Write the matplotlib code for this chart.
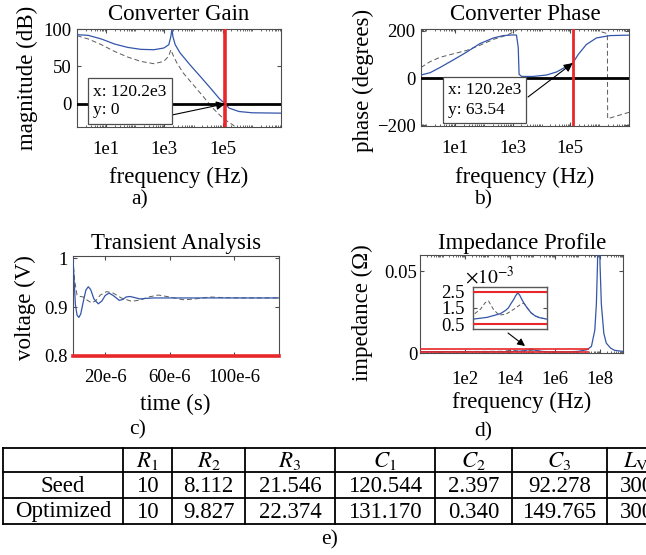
import numpy as np
import matplotlib
matplotlib.use('Agg')
import matplotlib.pyplot as plt
from matplotlib.ticker import LogLocator, NullFormatter

W, H = 646, 555
plt.rcParams['font.family'] = ['Liberation Serif', 'DejaVu Serif']
plt.rcParams['mathtext.fontset'] = 'stix'

BLUE = '#3355aa'
GRAY = '#5a5a5a'
RED = '#e8272a'

# ---------------- data ----------------
# a) converter gain (x: log10 frequency, y: dB)
gain_opt_logf = [0.0, 0.39, 0.84, 1.29, 1.74, 2.19, 2.64, 2.98, 3.15, 3.22, 3.26, 3.29, 3.37, 3.54, 3.88,
                 4.21, 4.55, 4.89, 5.08, 5.22, 5.56, 6.01, 7.0]
gain_opt = [92.4, 91.5, 86.6, 79.9, 75.4, 72.8, 72.3, 74.6, 79.0, 90.0, 100.0, 90.0, 79.0, 67.9, 52.0,
            37.5, 22.3, 6.7, 0.0, -5.8, -10.3, -12.0, -12.5]
gain_seed_logf = [0.0, 0.39, 0.84, 1.29, 1.74, 2.19, 2.64, 2.98, 3.15, 3.22, 3.29, 3.43, 3.65, 3.99,
                  4.33, 4.66, 5.0, 5.34, 5.5]
gain_seed = [91.0, 86.6, 79.0, 70.0, 62.5, 56.7, 53.6, 56.7, 64.0, 72.3, 65.6, 54.5, 41.0, 25.4,
             9.8, -5.8, -19.0, -28.0, -33.0]
cross_f = 120.2e3
cross_gain = 0
cross_phase = 63.54

# b) converter phase (x: log10 frequency, y: degrees)
phase_opt_logf = [-0.18, 0.14, 0.48, 0.94, 1.40, 1.86, 2.33, 2.67, 3.02, 3.13, 3.19, 3.22, 3.31, 3.71,
                  4.17, 4.52, 4.80, 5.08, 5.27, 5.55, 5.90, 6.36, 7.03]
phase_opt = [13, 23, 45, 77, 110, 146, 170, 180, 183, 182, 130, 16, 7, 7,
             13, 26, 45, 63.5, 100, 142, 170, 180, 182]
phase_seed_logf = [-0.18, 0.14, 0.48, 0.94, 1.40, 1.86, 2.33, 2.80, 3.1, 3.4, 4.0, 5.0, 5.6, 5.9,
                   6.1, 6.28, 6.29, 7.03]
phase_seed = [45, 70, 88, 103, 117, 139, 164, 182, 200, 225, 250, 260, 235, 210,
              195, 188, -172, -145]

# c) transient analysis (x: microseconds, y: volts)
tr_t_opt = [0, 0.6, 1.5, 2.5, 3.6, 4.8, 6.3, 8.0, 9.5, 11.0, 13.0, 15.7, 18.0, 20.0, 22.4, 25.0,
            28.8, 31.0, 33.0, 35.4, 38.0, 41.6, 45.0, 50.0, 128.0]
tr_v_opt = [0.998, 0.96, 0.905, 0.884, 0.879, 0.886, 0.91, 0.935, 0.942, 0.936, 0.917, 0.907,
            0.913, 0.924, 0.929, 0.924, 0.914, 0.916, 0.921, 0.922, 0.920, 0.917, 0.918, 0.919, 0.919]
tr_t_seed = [0, 1.0, 2.5, 4.5, 6.4, 9.0, 11.6, 14.0, 17.0, 20.9, 25.0, 30.0, 36.5, 42.0, 47.0,
             53.0, 60.0, 68.5, 76.0, 85.0, 95.0, 105.0, 128.0]
tr_v_seed = [0.998, 0.955, 0.925, 0.922, 0.921, 0.914, 0.909, 0.913, 0.925, 0.932, 0.929, 0.919,
             0.912, 0.915, 0.921, 0.925, 0.921, 0.9153, 0.917, 0.921, 0.9195, 0.919, 0.919]

# d) impedance profile (x: log10 frequency, y: milliohm)
z_opt_logf = [0, 1, 2, 3, 3.7, 4.08, 4.44, 4.58, 4.66, 4.72, 4.80, 4.85, 4.91, 4.96, 5.02, 5.09,
              5.16, 5.27, 5.38, 5.5, 5.7, 6.0, 6.5, 7.0, 7.4, 7.6, 7.75, 7.82, 7.87, 7.93, 7.98,
              8.04, 8.15, 8.26, 8.45, 8.63, 9.0]
z_opt = [0.75, 0.77, 0.78, 0.80, 0.81, 0.92, 1.15, 1.35, 1.52, 1.75, 2.03, 2.25, 2.44, 2.30, 2.03,
         1.75, 1.52, 1.20, 1.01, 0.90, 0.81, 0.70, 0.65, 1.0, 2.0, 4.0, 14.0, 30.0, 55.0, 120.0,
         55.0, 30.0, 12.0, 6.0, 3.0, 1.6, 1.0]
z_seed_logf = [0, 2, 3, 3.7, 3.9, 4.03, 4.12, 4.25, 4.4, 4.58, 4.8, 4.96, 5.06, 5.09, 5.16, 5.27,
               5.38, 5.5, 5.7, 6.0, 6.5]
z_seed = [0.9, 0.95, 1.0, 1.07, 1.42, 1.83, 1.93, 1.42, 1.07, 1.10, 1.42, 1.68, 1.80, 1.75, 1.52,
          1.20, 1.01, 0.90, 0.81, 0.70, 0.65]
z_limits = [0.5, 2.5]

# e) table
table_cols = ['', r'$R_1$', r'$R_2$', r'$R_3$', r'$C_1$', r'$C_2$', r'$C_3$', r'$L_\mathrm{V}$']
table_seed = ['Seed', '10', '8.112', '21.546', '120.544', '2.397', '92.278', '300']
table_opt = ['Optimized', '10', '9.827', '22.374', '131.170', '0.340', '149.765', '300']

# ---------------- layout helpers ----------------
fig = plt.figure(figsize=(W / 100, H / 100), dpi=100)


def rect(l, t, r, b):
    return [l / W, 1 - b / H, (r - l) / W, (b - t) / H]


def style(ax, logx=False, xpad=10):
    ax.tick_params(which='both', direction='in', top=True, right=True, labelsize=13.5,
                   color='0.3', length=3)
    ax.tick_params(axis='x', pad=xpad)
    ax.tick_params(axis='y', pad=4)
    ax.tick_params(which='minor', length=1.5)
    for s in ax.spines.values():
        s.set_color('0.3')
        s.set_linewidth(0.8)
    if logx:
        ax.xaxis.set_minor_locator(LogLocator(base=10, subs=np.arange(1, 10), numticks=100))
        ax.xaxis.set_minor_formatter(NullFormatter())


def fp(x, y):
    return (x, H - y)


# ---------------- a) ----------------
axa = fig.add_axes(rect(77, 29, 281, 127))
axa.semilogx(10 ** np.array(gain_seed_logf), gain_seed, color=GRAY, lw=0.7, ls=(0, (5, 3)), zorder=2)
axa.semilogx(10 ** np.array(gain_opt_logf), gain_opt, color=BLUE, lw=0.9, zorder=3)
axa.axhline(0, color='black', lw=2, zorder=4)
axa.axvline(cross_f, color=RED, lw=2.6, zorder=5)
axa.set_xlim(1, 1e7)
axa.set_ylim(-31, 100)
style(axa, True)
axa.set_xticks([1e1, 1e3, 1e5])
axa.set_xticklabels(['1e1', '1e3', '1e5'])
axa.set_yticks([0, 50, 100])
axa.annotate('', xy=(cross_f, cross_gain), xycoords='data', xytext=fp(172, 115),
             textcoords='figure pixels',
             arrowprops=dict(arrowstyle='-|>', color='black', lw=0.8, mutation_scale=13,
                             shrinkA=0, shrinkB=0), zorder=6)

# ---------------- b) ----------------
axb = fig.add_axes(rect(421, 29, 629, 126))
axb.semilogx(10 ** np.array(phase_seed_logf), phase_seed, color=GRAY, lw=0.7, ls=(0, (5, 3)), zorder=2)
axb.semilogx(10 ** np.array(phase_opt_logf), phase_opt, color=BLUE, lw=0.9, zorder=3)
axb.axhline(0, color='black', lw=2, zorder=4)
axb.axvline(cross_f, color=RED, lw=2.0, zorder=5)
axb.set_xlim(10 ** -0.18, 10 ** 7.03)
axb.set_ylim(-203, 208)
style(axb, True)
axb.set_xticks([1e1, 1e3, 1e5])
axb.set_xticklabels(['1e1', '1e3', '1e5'])
axb.set_yticks([-200, 0, 200])
axb.annotate('', xy=(cross_f, cross_phase), xycoords='data', xytext=fp(528, 97),
             textcoords='figure pixels',
             arrowprops=dict(arrowstyle='-|>', color='black', lw=0.8, mutation_scale=13,
                             shrinkA=0, shrinkB=0), zorder=6)

# ---------------- c) ----------------
axc = fig.add_axes(rect(73, 256, 279, 356))
axc.plot(np.array(tr_t_seed) * 1e-6, tr_v_seed, color=GRAY, lw=0.7, ls=(0, (5, 3)), zorder=2)
axc.plot(np.array(tr_t_opt) * 1e-6, tr_v_opt, color=BLUE, lw=0.9, zorder=3)
axc.axhline(0.8, color=RED, lw=2.6, zorder=5, clip_on=False)
axc.set_xlim(0, 128e-6)
axc.set_ylim(0.8, 1.005)
style(axc, xpad=9)
axc.set_xticks([20e-6, 60e-6, 100e-6])
axc.set_xticklabels(['20e-6', '60e-6', '100e-6'])
axc.set_yticks([0.8, 0.9, 1.0])
axc.set_yticklabels(['0.8', '0.9', '1'])

# ---------------- d) ----------------
axd = fig.add_axes(rect(420, 255, 623, 353))
fz_opt = 10 ** np.array(z_opt_logf)
fz_seed = 10 ** np.array(z_seed_logf)
axd.semilogx(fz_seed, np.array(z_seed) * 1e-3, color=GRAY, lw=0.7, ls=(0, (5, 3)), zorder=2)
axd.semilogx(fz_opt, np.array(z_opt) * 1e-3, color=BLUE, lw=0.9, zorder=3)
for zl in z_limits:
    axd.hlines(zl * 1e-3, 1, 3e7, color=RED, lw=1.2, zorder=4)
axd.set_xlim(1, 1e9)
axd.set_ylim(0, 0.06)
style(axd, True, xpad=13)
axd.set_xticks([1e2, 1e4, 1e6, 1e8])
axd.set_xticklabels(['1e2', '1e4', '1e6', '1e8'])
axd.set_yticks([0, 0.05])
axd.set_yticklabels(['0', '0.05'])
axd.tick_params(axis='y', pad=2)
axd.annotate('', xy=fp(525, 346), xycoords='figure pixels', xytext=fp(508, 333),
             textcoords='figure pixels',
             arrowprops=dict(arrowstyle='-|>', color='black', lw=0.8, mutation_scale=11,
                             shrinkA=0, shrinkB=0), zorder=6)

# inset
axi = fig.add_axes(rect(473, 287, 547, 329))
axi.semilogx(fz_seed, np.array(z_seed) * 1e-3, color=GRAY, lw=0.7, ls=(0, (4, 2.5)), zorder=2)
axi.semilogx(fz_opt, np.array(z_opt) * 1e-3, color=BLUE, lw=0.9, zorder=3)
for zl in z_limits:
    axi.axhline(zl * 1e-3, color=RED, lw=1.5, zorder=4)
axi.set_xlim(10 ** 3.7, 10 ** 5.7)
axi.set_ylim(0.2e-3, 2.8e-3)
axi.set_xticks([])
axi.xaxis.set_minor_locator(matplotlib.ticker.NullLocator())
axi.set_yticks([0.5e-3, 1.5e-3, 2.5e-3])
axi.set_yticklabels(['0.5', '1.5', '2.5'])
axi.tick_params(direction='in', right=True, labelsize=13.5, color='0.3', length=3, pad=6)
for s in axi.spines.values():
    s.set_color('0.35')
    s.set_linewidth(1.0)

# ---------------- overlay (texts & table) ----------------
ov = fig.add_axes([0, 0, 1, 1], zorder=10)
ov.set_xlim(0, W)
ov.set_ylim(H, 0)
ov.axis('off')

TS = 16.5
ov.text(179, 14, 'Converter Gain', ha='center', va='center', fontsize=TS)
ov.text(525, 14, 'Converter Phase', ha='center', va='center', fontsize=TS)
ov.text(176, 243, 'Transient Analysis', ha='center', va='center', fontsize=TS)
ov.text(522, 243, 'Impedance Profile', ha='center', va='center', fontsize=TS)

ov.text(179, 177, 'frequency (Hz)', ha='center', va='center', fontsize=TS)
ov.text(525, 177, 'frequency (Hz)', ha='center', va='center', fontsize=TS)
ov.text(175, 404, 'time (s)', ha='center', va='center', fontsize=TS)
ov.text(522, 402, 'frequency (Hz)', ha='center', va='center', fontsize=TS)

ov.text(27, 78, 'magnitude (dB)', ha='center', va='center', rotation=90, fontsize=TS)
ov.text(363, 80, 'phase (degrees)', ha='center', va='center', rotation=90, fontsize=TS)
ov.text(25, 308, 'voltage (V)', ha='center', va='center', rotation=90, fontsize=TS)
ov.text(362, 313, 'impedance (Ω)', ha='center', va='center', rotation=90, fontsize=TS)

PL = 15.5
ov.text(140, 200, 'a)', ha='center', va='center', fontsize=PL)
ov.text(483, 200, 'b)', ha='center', va='center', fontsize=PL)
ov.text(138, 430, 'c)', ha='center', va='center', fontsize=PL)
ov.text(483, 432, 'd)', ha='center', va='center', fontsize=PL)
ov.text(330, 540, 'e)', ha='center', va='center', fontsize=PL)

box = dict(boxstyle='square,pad=0.3', fc='white', ec='0.3', lw=0.9)
ov.text(130, 101, 'x: 120.2e3\ny: 0', ha='center', va='center', multialignment='left',
        fontsize=12.5, linespacing=1.25, bbox=box)
ov.text(484.5, 100, 'x: 120.2e3\ny: 63.54', ha='center', va='center', multialignment='left',
        fontsize=12.5, linespacing=1.25, bbox=box)
ov.text(490, 277, r'$\times 10^{-3}$', ha='center', va='center', fontsize=14)

# table
col_edges = [3, 123, 172, 245, 335, 435, 512, 607, 666]
row_edges = [448, 472, 498, 524]
for x in col_edges:
    ov.plot([x, x], [row_edges[0], row_edges[-1]], color='black', lw=1.3, clip_on=False)
for y in row_edges:
    ov.plot([col_edges[0], col_edges[-1]], [y, y], color='black', lw=1.3, clip_on=False)
for r, row in enumerate([table_cols, table_seed, table_opt]):
    yc = (row_edges[r] + row_edges[r + 1]) / 2
    for c, txt in enumerate(row):
        xc = (col_edges[c] + col_edges[c + 1]) / 2
        ov.text(xc, yc + 1, txt, ha='center', va='center', fontsize=TS)

fig.savefig('out.png', dpi=100)
